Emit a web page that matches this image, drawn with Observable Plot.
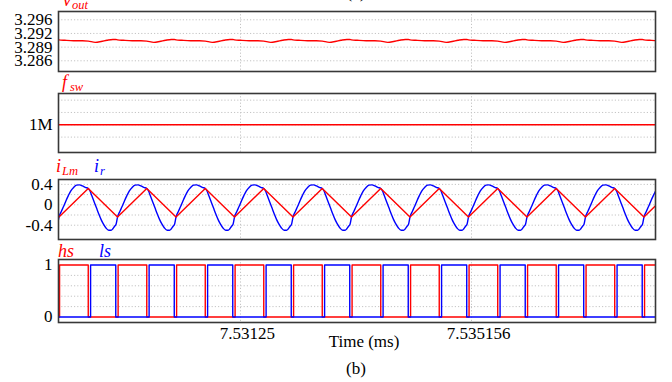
<!DOCTYPE html>
<html><head><meta charset="utf-8">
<script src="https://cdn.jsdelivr.net/npm/d3@7"></script>
<script src="https://cdn.jsdelivr.net/npm/@observablehq/plot@0.6"></script>
<style>
body{margin:0;background:#fff;}
#wrap{position:relative;width:672px;height:382px;overflow:hidden;background:#fff;font-family:"Liberation Serif","Times New Roman",serif;}
.t{position:absolute;white-space:nowrap;line-height:1;}
</style></head><body><div id="wrap"></div>
<script>
// ---- data ----
// time axis (ms)
const xDomain = [7.528173, 7.538267];
const xTickValues = [7.53125, 7.535156];
const xTickLabels = ["7.53125", "7.535156"];
// start of each switching cycle (valley of iLm), ms
const cycleStarts = [7.527192, 7.528181, 7.529171, 7.530160, 7.531149, 7.532138, 7.533127,
  7.534116, 7.535105, 7.536094, 7.537083, 7.538072, 7.539061];

// vout ripple over one cycle (phase of cycle, volts)
const voutPhase = [0.00, 0.10, 0.25, 0.40, 0.50, 0.62, 0.72, 0.82, 0.92, 0.97];
const voutValue = [3.2911, 3.2910, 3.2909, 3.2909, 3.2908, 3.2905, 3.2907, 3.2910, 3.2912, 3.2912];
const voutTickValues = [3.286, 3.28933, 3.29267, 3.296];
const voutTickLabels = ["3.286", "3.289", "3.292", "3.296"];
const voutDomain = [3.28339, 3.29802];

// switching frequency (Hz)
const fswValue = 1e6;
const fswTickValues = [1e6];
const fswTickLabels = ["1M"];
const fswGrid = [0.9e6, 1.0e6, 1.1e6, 1.2e6];
const fswDomain = [0.775e6, 1.254e6];

// magnetizing current: valley and peak of the triangle (A)
const iLmPhase = [0.0, 0.5];
const iLmValue = [-0.24, 0.32];
// resonant current over one cycle (phase, A)
const irPhase = [0.00, 0.04, 0.08, 0.12, 0.16, 0.20, 0.25, 0.30, 0.35, 0.40, 0.45, 0.50,
  0.53, 0.56, 0.60, 0.64, 0.68, 0.72, 0.76, 0.80, 0.85, 0.89, 0.92, 0.95, 0.975];
const irValue = [-0.24, -0.13, -0.03, 0.08, 0.18, 0.27, 0.34, 0.385, 0.39, 0.37, 0.34, 0.32,
  0.27, 0.18, 0.06, -0.06, -0.18, -0.29, -0.38, -0.45, -0.50, -0.50, -0.47, -0.42, -0.38];
const iTickValues = [-0.4, 0, 0.4];
const iTickLabels = ["-0.4", "0", "0.4"];
const iGrid = [-0.4, -0.2, 0, 0.2, 0.4];
const iDomain = [-0.68, 0.496];

// gate signals: on / off instants within a cycle (phase)
const hsOnOff = [0.01, 0.50];
const lsOnOff = [0.54, 0.97];
const gTickValues = [0, 1];
const gTickLabels = ["0", "1"];
const gGrid = [0.2, 0.4, 0.6, 0.8];
const gDomain = [-0.105, 1.105];

// ---- build tables ----
function expand(phases, values) {
  const rows = [];
  for (let k = 0; k < cycleStarts.length - 1; k++) {
    const t0 = cycleStarts[k], T = cycleStarts[k + 1] - t0;
    phases.forEach((p, i) => rows.push({t: t0 + p * T, v: values[i]}));
  }
  return rows;
}
const vout = expand(voutPhase, voutValue);
const fsw = cycleStarts.map(t => ({t, v: fswValue}));
const iLm = expand(iLmPhase, iLmValue);
const ir = expand(irPhase, irValue);
const hs = expand(hsOnOff, [1, 0]);
const ls = expand(lsOnOff, [1, 0]);

const RED = "#ff0000", BLUE = "#0000ff";
const wrap = document.getElementById("wrap");
const font = "Liberation Serif";

function fmt(values, labels) { return d => labels[values.indexOf(d)] ?? ""; }

function panel({top, height, mt, mb, yDomain, yTicks, yLabels, yGrid, marks, xAxis}) {
  const all = [
    Plot.gridY(yGrid, {stroke: "#c4c4c4", strokeOpacity: 1, strokeDasharray: "1.2,2"}),
    Plot.gridX(xTickValues, {stroke: "#c4c4c4", strokeOpacity: 1, strokeDasharray: "1.2,2"}),
    ...marks,
    Plot.frame({stroke: "#383838", strokeWidth: 1.6}),
    Plot.axisY(yTicks, {label: null, tickSize: 0, tickPadding: 6, tickFormat: fmt(yTicks, yLabels), fontSize: 17, fontFamily: font, fill: "#000"})
  ];
  if (xAxis) all.push(Plot.axisX(xTickValues, {label: null, tickSize: 0, tickPadding: 4, dx: 7, tickFormat: fmt(xTickValues, xTickLabels), fontSize: 17, fontFamily: font, fill: "#000"}));
  const svg = Plot.plot({
    width: 672, height, marginLeft: 58, marginRight: 17, marginTop: mt, marginBottom: mb,
    x: {domain: xDomain, label: null, axis: xAxis ? undefined : null},
    y: {domain: yDomain, label: null},
    style: {background: "transparent", fontFamily: font, fontSize: "17px", color: "#000"},
    marks: all
  });
  svg.style.position = "absolute";
  svg.style.left = "0px";
  svg.style.top = top + "px";
  wrap.appendChild(svg);
}

panel({top: 0, height: 82, mt: 11, mb: 11, yDomain: voutDomain, yTicks: voutTickValues, yLabels: voutTickLabels, yGrid: voutTickValues,
  marks: [Plot.line(vout, {x: "t", y: "v", stroke: RED, strokeWidth: 1.4, curve: "monotone-x", clip: true})]});
panel({top: 83, height: 80, mt: 10, mb: 11, yDomain: fswDomain, yTicks: fswTickValues, yLabels: fswTickLabels, yGrid: fswGrid,
  marks: [Plot.line(fsw, {x: "t", y: "v", stroke: RED, strokeWidth: 1.6, clip: true})]});
panel({top: 169, height: 80, mt: 10, mb: 10, yDomain: iDomain, yTicks: iTickValues, yLabels: iTickLabels, yGrid: iGrid,
  marks: [
    Plot.line(ir, {x: "t", y: "v", stroke: BLUE, strokeWidth: 1.4, curve: "monotone-x", clip: true}),
    Plot.line(iLm, {x: "t", y: "v", stroke: RED, strokeWidth: 1.4, clip: true})
  ]});
panel({top: 249, height: 95, mt: 10, mb: 22, yDomain: gDomain, yTicks: gTickValues, yLabels: gTickLabels, yGrid: gGrid, xAxis: true,
  marks: [
    Plot.line(hs, {x: "t", y: "v", stroke: RED, strokeWidth: 1.4, curve: "step-after", clip: true}),
    Plot.line(ls, {x: "t", y: "v", stroke: BLUE, strokeWidth: 1.4, curve: "step-after", clip: true})
  ]});

// ---- text labels ----
function addText(text, left, baseline, size, color, italic, center) {
  const d = document.createElement("div");
  d.className = "t";
  d.textContent = text;
  d.style.fontSize = size + "px";
  d.style.color = color;
  d.style.fontStyle = italic ? "italic" : "normal";
  d.style.top = (baseline - 0.8375 * size) + "px";
  d.style.left = left + "px";
  if (center) d.style.transform = "translateX(-50%)";
  wrap.appendChild(d);
}
addText("(a)", 356, -1.5, 17, "#000", false, true);
addText("v", 63, 6, 18, RED, true);
addText("out", 72, 9.5, 12.5, RED, true);
addText("f", 62, 88, 18, RED, true);
addText("sw", 70, 91, 12.5, RED, true);
addText("i", 56, 172, 18, RED, true);
addText("Lm", 62, 175, 12.5, RED, true);
addText("i", 94, 172, 18, BLUE, true);
addText("r", 100, 175, 12.5, BLUE, true);
addText("hs", 58, 257, 18, RED, true);
addText("ls", 99, 257, 18, BLUE, true);
addText("Time (ms)", 364, 347, 17, "#000", false, true);
addText("(b)", 356, 374, 17, "#000", false, true);
</script></body></html>
